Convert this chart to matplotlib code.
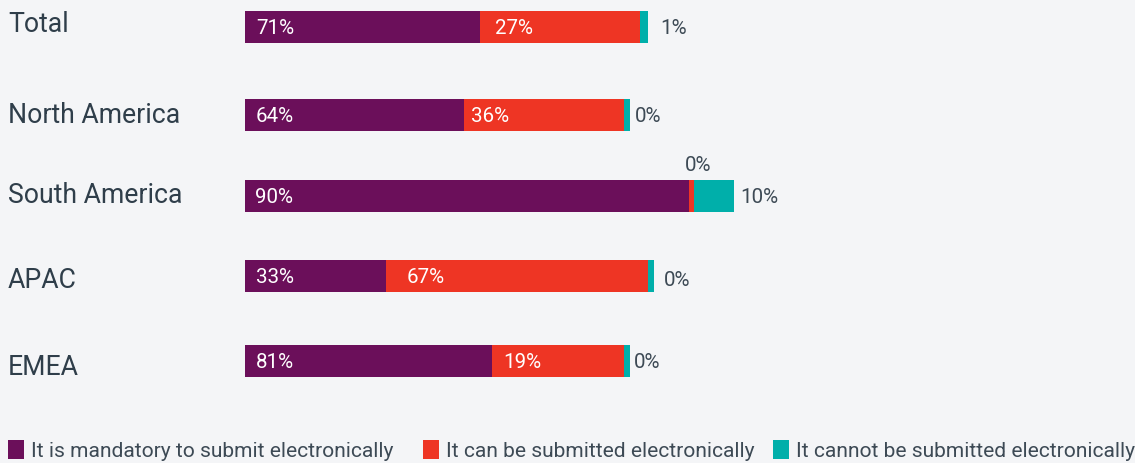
import matplotlib
matplotlib.use("Agg")
import matplotlib.pyplot as plt
from matplotlib.patches import Rectangle
import numpy as np

# ---- data ----
categories = ["Total", "North America", "South America", "APAC", "EMEA"]
series_names = ["It is mandatory to submit electronically",
                "It can be submitted electronically",
                "It cannot be submitted electronically"]
# drawn segment lengths
mandatory_len = [47.7, 44.4, 90.1, 28.6, 50.1]
can_len = [32.5, 32.5, 1.0, 53.1, 26.8]
cannot_len = [1.6, 1.2, 8.1, 1.2, 1.2]
# value labels
mandatory_lbl = ["71%", "64%", "90%", "33%", "81%"]
can_lbl = ["27%", "36%", "0%", "67%", "19%"]
cannot_lbl = ["1%", "0%", "10%", "0%", "0%"]

colors = ["#6B0F5A", "#EE3524", "#00AFAA"]
bg = "#F4F5F7"
dark = "#2F3E4A"
lbl_dark = "#3D4A55"

W, H = 1135, 464
fig = plt.figure(figsize=(W / 100, H / 100), dpi=100, facecolor=bg)
plt.rcParams['font.family'] = ['Roboto', 'DejaVu Sans']

# ---- layout ----
px_per_unit = 4.93
ax_left_px, ax_bot_px = 245, 400
row_px = [28, 115.5, 196.5, 276.5, 362]      # bar centre rows (pixels from top)
cat_base_px = [32, 123, 203, 288, 375]       # category label baselines

ax = fig.add_axes([ax_left_px / W, (H - ax_bot_px) / H, (W - ax_left_px) / W, ax_bot_px / H])
ax.set_facecolor(bg)
ax.set_xlim(0, (W - ax_left_px) / px_per_unit)
ax.set_ylim(ax_bot_px, 0)
ax.axis("off")

y = np.array(row_px)
bh = 32
m = np.array(mandatory_len)
c = np.array(can_len)
n = np.array(cannot_len)
ax.barh(y, m, height=bh, color=colors[0], linewidth=0)
ax.barh(y, c, left=m, height=bh, color=colors[1], linewidth=0)
ax.barh(y, n, left=m + c, height=bh, color=colors[2], linewidth=0)

fs_in = 14.8
off_m = [11, 11, 10, 11, 11]
off_c = [15, 7, 0, 21, 11]
off_n = [12, 5, 6, 10, 4]
dy = -1
for i in range(len(categories)):
    ax.annotate(mandatory_lbl[i], (0, y[i]), xytext=(off_m[i], dy), textcoords="offset pixels",
                ha="left", va="center", color="white", fontsize=fs_in)
    if i == 2:
        ax.annotate(can_lbl[i], (m[i] + c[i] / 2, y[i]), xytext=(6, 31), textcoords="offset pixels",
                    ha="center", va="center", color=lbl_dark, fontsize=fs_in)
    else:
        ax.annotate(can_lbl[i], (m[i], y[i]), xytext=(off_c[i], dy), textcoords="offset pixels",
                    ha="left", va="center", color="white", fontsize=fs_in)
    ax.annotate(cannot_lbl[i], (m[i] + c[i] + n[i], y[i]), xytext=(off_n[i], dy - (3 if i == 3 else 0)),
                textcoords="offset pixels", ha="left", va="center", color=lbl_dark, fontsize=fs_in)

# category labels
for i, cat in enumerate(categories):
    fig.text(8 / W, 1 - cat_base_px[i] / H, cat, ha="left", va="baseline", fontsize=19.2, color=dark)

# legend
leg_x = [8, 423, 773]
for k, name in enumerate(series_names):
    fig.patches.append(Rectangle((leg_x[k] / W, 1 - 460 / H), 16 / W, 19 / H,
                                 transform=fig.transFigure, color=colors[k], linewidth=0))
    fig.text((leg_x[k] + 23) / W, 1 - 457 / H, name, ha="left", va="baseline",
             fontsize=15.1, color=lbl_dark)

fig.savefig("out.png", dpi=100, facecolor=bg)
